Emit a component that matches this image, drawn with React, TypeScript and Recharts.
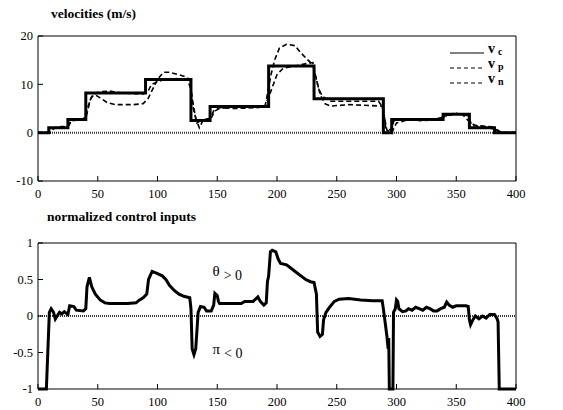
import React from "react";
import {
  LineChart,
  Line,
  XAxis,
  YAxis,
  ReferenceLine,
  ReferenceDot,
  Legend,
} from "recharts";

const timeTicks = [0, 50, 100, 150, 200, 250, 300, 350, 400];
const velocityTicks = [-10, 0, 10, 20];
const controlTicks = [-1, -0.5, 0, 0.5, 1];

// commanded velocity (step function)
const vcData = [
  { t: 0, v: 0 }, { t: 9, v: 1 }, { t: 25, v: 2.7 }, { t: 40, v: 8.2 },
  { t: 90, v: 11 }, { t: 128, v: 2.5 }, { t: 144, v: 5.4 }, { t: 193, v: 13.8 },
  { t: 231, v: 7 }, { t: 289, v: 0 }, { t: 296, v: 2.7 }, { t: 339, v: 3.8 },
  { t: 361, v: 1 }, { t: 382, v: 0 }, { t: 400, v: 0 },
];

// v_p
const vpData = [
  { t: 0, v: 0 }, { t: 10, v: 0 }, { t: 14, v: 1 }, { t: 24, v: 1.2 },
  { t: 28, v: 2.5 }, { t: 38, v: 2.7 }, { t: 42, v: 5.5 }, { t: 45, v: 7.5 },
  { t: 48, v: 7.8 }, { t: 52, v: 7.2 }, { t: 58, v: 6.2 }, { t: 65, v: 5.8 },
  { t: 80, v: 5.8 }, { t: 88, v: 6 }, { t: 92, v: 7 }, { t: 96, v: 9 },
  { t: 100, v: 11 }, { t: 105, v: 12.5 }, { t: 110, v: 12.5 }, { t: 118, v: 12 },
  { t: 124, v: 11.5 }, { t: 127, v: 11 }, { t: 129, v: 7 }, { t: 132, v: 3 },
  { t: 135, v: 1 }, { t: 138, v: 2.5 }, { t: 144, v: 3 }, { t: 147, v: 4.5 },
  { t: 152, v: 5.2 }, { t: 165, v: 5 }, { t: 185, v: 5.2 }, { t: 190, v: 5.5 },
  { t: 192, v: 8 }, { t: 195, v: 12 }, { t: 198, v: 15 }, { t: 202, v: 17.5 },
  { t: 208, v: 18.3 }, { t: 215, v: 18 }, { t: 220, v: 16.5 }, { t: 226, v: 15 },
  { t: 230, v: 14 }, { t: 233, v: 11 }, { t: 236, v: 8 }, { t: 240, v: 6 },
  { t: 245, v: 5.5 }, { t: 260, v: 5.8 }, { t: 288, v: 5.5 }, { t: 290, v: 3 },
  { t: 292, v: 0.5 }, { t: 296, v: 0 }, { t: 300, v: 2 }, { t: 310, v: 2.7 },
  { t: 320, v: 2.5 }, { t: 330, v: 2.6 }, { t: 340, v: 3.3 }, { t: 350, v: 4 },
  { t: 360, v: 3.5 }, { t: 363, v: 1.5 }, { t: 375, v: 1.2 }, { t: 385, v: 0.5 },
  { t: 388, v: 0 }, { t: 400, v: 0 },
];

// v_n
const vnData = [
  { t: 0, v: 0 }, { t: 10, v: 0 }, { t: 12, v: 0.8 }, { t: 16, v: 1.2 },
  { t: 22, v: 1.3 }, { t: 26, v: 1.5 }, { t: 28, v: 2.5 }, { t: 36, v: 2.6 },
  { t: 40, v: 3 }, { t: 42, v: 5 }, { t: 44, v: 7 }, { t: 47, v: 8 },
  { t: 52, v: 8.5 }, { t: 60, v: 8.6 }, { t: 70, v: 8.2 }, { t: 88, v: 8 },
  { t: 92, v: 8.5 }, { t: 95, v: 10 }, { t: 100, v: 10.5 }, { t: 105, v: 11 },
  { t: 115, v: 11.2 }, { t: 125, v: 11 }, { t: 128, v: 9 }, { t: 130, v: 5 },
  { t: 133, v: 2 }, { t: 136, v: 2.5 }, { t: 145, v: 3 }, { t: 148, v: 4.5 },
  { t: 152, v: 5 }, { t: 160, v: 5.3 }, { t: 190, v: 5.5 }, { t: 194, v: 8 },
  { t: 197, v: 10 }, { t: 200, v: 12 }, { t: 205, v: 13.3 }, { t: 215, v: 13.8 },
  { t: 225, v: 14.3 }, { t: 230, v: 14.5 }, { t: 232, v: 12 }, { t: 235, v: 9 },
  { t: 238, v: 7.5 }, { t: 245, v: 6.5 }, { t: 285, v: 6.5 }, { t: 289, v: 5 },
  { t: 291, v: 1 }, { t: 295, v: 0.5 }, { t: 298, v: 2.5 }, { t: 305, v: 2.7 },
  { t: 330, v: 2.8 }, { t: 340, v: 3.2 }, { t: 345, v: 4 }, { t: 355, v: 3.8 },
  { t: 362, v: 2 }, { t: 366, v: 1.5 }, { t: 380, v: 1.2 }, { t: 384, v: 0.5 },
  { t: 386, v: 0 }, { t: 400, v: 0 },
];

// normalized control input
const controlData = [
  { t: 0, u: -1 }, { t: 7, u: -1 }, { t: 9.5, u: 0.05 }, { t: 11, u: 0.1 },
  { t: 13, u: 0.05 }, { t: 14.5, u: -0.04 }, { t: 16, u: 0 }, { t: 18, u: 0.05 },
  { t: 20, u: 0.03 }, { t: 22, u: 0.06 }, { t: 25, u: 0.02 }, { t: 26.5, u: 0.14 },
  { t: 30, u: 0.13 }, { t: 32, u: 0.08 }, { t: 38, u: 0.07 }, { t: 40, u: 0.1 },
  { t: 41, u: 0.4 }, { t: 43, u: 0.53 }, { t: 45, u: 0.4 }, { t: 48, u: 0.3 },
  { t: 52, u: 0.22 }, { t: 56, u: 0.18 }, { t: 60, u: 0.17 }, { t: 75, u: 0.17 },
  { t: 82, u: 0.18 }, { t: 85, u: 0.22 }, { t: 88, u: 0.25 }, { t: 91, u: 0.3 },
  { t: 92.5, u: 0.5 }, { t: 95.5, u: 0.61 }, { t: 100, u: 0.58 }, { t: 104, u: 0.55 },
  { t: 107, u: 0.5 }, { t: 110, u: 0.42 }, { t: 114, u: 0.35 }, { t: 118, u: 0.3 },
  { t: 122, u: 0.27 }, { t: 127, u: 0.25 }, { t: 128, u: 0.1 }, { t: 129, u: -0.45 },
  { t: 130.5, u: -0.53 }, { t: 132, u: -0.45 }, { t: 133, u: -0.2 }, { t: 134, u: 0.05 },
  { t: 136, u: 0.13 }, { t: 139, u: 0.12 }, { t: 141, u: 0.07 }, { t: 145, u: 0.07 },
  { t: 147, u: 0.15 }, { t: 148, u: 0.31 }, { t: 150, u: 0.28 }, { t: 151, u: 0.2 },
  { t: 152, u: 0.17 }, { t: 170, u: 0.17 }, { t: 173, u: 0.2 }, { t: 180, u: 0.2 },
  { t: 184, u: 0.26 }, { t: 186, u: 0.2 }, { t: 189, u: 0.15 }, { t: 191, u: 0.18 },
  { t: 192, u: 0.47 }, { t: 193, u: 0.55 }, { t: 194.5, u: 0.88 }, { t: 196, u: 0.9 },
  { t: 199, u: 0.88 }, { t: 201, u: 0.78 }, { t: 203, u: 0.72 }, { t: 208, u: 0.7 },
  { t: 212, u: 0.65 }, { t: 216, u: 0.6 }, { t: 220, u: 0.55 }, { t: 224, u: 0.5 },
  { t: 228, u: 0.47 }, { t: 231, u: 0.46 }, { t: 233, u: 0.3 }, { t: 234, u: -0.22 },
  { t: 236, u: -0.28 }, { t: 238, u: -0.25 }, { t: 239, u: -0.05 }, { t: 241, u: 0.05 },
  { t: 244, u: 0.12 }, { t: 248, u: 0.2 }, { t: 252, u: 0.23 }, { t: 260, u: 0.24 },
  { t: 270, u: 0.22 }, { t: 280, u: 0.21 }, { t: 288, u: 0.21 }, { t: 289, u: 0.1 },
  { t: 291, u: -0.15 }, { t: 292, u: -0.28 }, { t: 293, u: -0.45 }, { t: 293.5, u: -0.3 },
  { t: 294, u: -1 }, { t: 297, u: -1 }, { t: 297.5, u: 0.05 }, { t: 299, u: 0.1 },
  { t: 300, u: 0.22 }, { t: 301, u: 0.2 }, { t: 302, u: 0.1 }, { t: 305, u: 0.06 },
  { t: 308, u: 0.07 }, { t: 310, u: 0.1 }, { t: 313, u: 0.08 }, { t: 316, u: 0.12 },
  { t: 319, u: 0.1 }, { t: 322, u: 0.08 }, { t: 325, u: 0.12 }, { t: 328, u: 0.1 },
  { t: 331, u: 0.07 }, { t: 334, u: 0.07 }, { t: 337, u: 0.1 }, { t: 340, u: 0.12 },
  { t: 342, u: 0.19 }, { t: 344, u: 0.15 }, { t: 347, u: 0.12 }, { t: 350, u: 0.14 },
  { t: 358, u: 0.14 }, { t: 360, u: 0.13 }, { t: 361, u: -0.05 }, { t: 362, u: -0.12 },
  { t: 364, u: -0.05 }, { t: 366, u: 0 }, { t: 369, u: -0.04 }, { t: 372, u: 0 },
  { t: 375, u: -0.03 }, { t: 378, u: 0.02 }, { t: 382, u: 0.02 }, { t: 384, u: -0.03 },
  { t: 385, u: -0.08 }, { t: 386, u: -1 }, { t: 400, u: -1 },
];

const legendItems = [
  { base: "v", sub: "c", dash: undefined },
  { base: "v", sub: "p", dash: "4 3" },
  { base: "v", sub: "n", dash: "4 3" },
];

const serif = '"Liberation Serif", "Times New Roman", serif';
const tickStyle = { fontFamily: serif, fontSize: 12.5, fill: "#000" };

const renderLegend = () => (
  <div style={{ fontFamily: serif }}>
    {legendItems.map((item) => (
      <div
        key={item.sub}
        style={{ display: "flex", alignItems: "center", height: 15 }}
      >
        <svg width={38} height={12}>
          <line
            x1={2}
            y1={9}
            x2={36}
            y2={9}
            stroke="#000"
            strokeWidth={1}
            strokeDasharray={item.dash}
          />
        </svg>
        <span style={{ fontWeight: "bold", fontSize: 14, marginLeft: 2, lineHeight: "14px" }}>
          {item.base}
          <span style={{ fontSize: 10, marginLeft: 3, position: "relative", top: 2 }}>
            {item.sub}
          </span>
        </span>
      </div>
    ))}
  </div>
);

const signLabel = (main: string, rest: string) => (props: any) => {
  const { viewBox } = props;
  return (
    <text x={viewBox.x} y={viewBox.y} fontFamily={serif} fill="#000">
      <tspan fontSize={15}>{main}</tspan>
      <tspan dx={4} dy={4} fontSize={14}>
        {rest}
      </tspan>
    </text>
  );
};

export default function App() {
  return (
    <div
      style={{
        position: "absolute",
        left: 0,
        top: 0,
        width: 563,
        height: 410,
        background: "#fff",
        fontFamily: serif,
      }}
    >
      <div
        style={{
          position: "absolute",
          left: 51,
          top: 6,
          fontSize: 13.5,
          fontWeight: "bold",
          lineHeight: "16px",
        }}
      >
        velocities (m/s)
      </div>
      <div
        style={{
          position: "absolute",
          left: 47,
          top: 209,
          fontSize: 13.5,
          fontWeight: "bold",
          lineHeight: "16px",
        }}
      >
        normalized control inputs
      </div>

      <div style={{ position: "absolute", left: 0, top: 0 }}>
        <LineChart
          width={563}
          height={205}
          margin={{ top: 35, right: 46, bottom: 4, left: 0 }}
        >
          <XAxis
            xAxisId="b"
            type="number"
            dataKey="t"
            domain={[0, 400]}
            ticks={timeTicks}
            height={20}
            tickSize={-5}
            tickMargin={13}
            stroke="#000"
            tick={tickStyle}
          />
          <XAxis
            xAxisId="t"
            orientation="top"
            type="number"
            dataKey="t"
            domain={[0, 400]}
            ticks={timeTicks}
            height={1}
            tickSize={-5}
            tick={false}
            stroke="#000"
          />
          <YAxis
            yAxisId="l"
            type="number"
            domain={[-10, 20]}
            ticks={velocityTicks}
            width={38}
            tickSize={-5}
            tickMargin={10}
            stroke="#000"
            tick={tickStyle}
          />
          <YAxis
            yAxisId="r"
            orientation="right"
            type="number"
            domain={[-10, 20]}
            ticks={velocityTicks}
            width={1}
            tickSize={-5}
            tick={false}
            stroke="#000"
          />
          <ReferenceLine
            xAxisId="b"
            yAxisId="l"
            y={0}
            stroke="#333"
            strokeWidth={2}
            strokeDasharray="1 1"
          />
          <Line
            xAxisId="b"
            yAxisId="l"
            data={vpData}
            dataKey="v"
            name="v_p"
            type="linear"
            stroke="#000"
            strokeWidth={1.6}
            strokeDasharray="5 3"
            dot={false}
            isAnimationActive={false}
          />
          <Line
            xAxisId="b"
            yAxisId="l"
            data={vnData}
            dataKey="v"
            name="v_n"
            type="linear"
            stroke="#000"
            strokeWidth={1.6}
            strokeDasharray="5 3"
            dot={false}
            isAnimationActive={false}
          />
          <Line
            xAxisId="b"
            yAxisId="l"
            data={vcData}
            dataKey="v"
            name="v_c"
            type="stepAfter"
            stroke="#000"
            strokeWidth={3}
            dot={false}
            isAnimationActive={false}
          />
          <Legend
            layout="vertical"
            align="center"
            verticalAlign="middle"
            content={renderLegend}
            wrapperStyle={{ top: 42, left: 448, width: 80, height: 48 }}
          />
        </LineChart>
      </div>

      <div style={{ position: "absolute", left: 0, top: 205 }}>
        <LineChart
          width={563}
          height={205}
          margin={{ top: 37, right: 46, bottom: 1, left: 0 }}
        >
          <XAxis
            xAxisId="b"
            type="number"
            dataKey="t"
            domain={[0, 400]}
            ticks={timeTicks}
            height={20}
            tickSize={-5}
            tickMargin={13}
            stroke="#000"
            tick={tickStyle}
          />
          <XAxis
            xAxisId="t"
            orientation="top"
            type="number"
            dataKey="t"
            domain={[0, 400]}
            ticks={timeTicks}
            height={1}
            tickSize={-5}
            tick={false}
            stroke="#000"
          />
          <YAxis
            yAxisId="l"
            type="number"
            domain={[-1, 1]}
            ticks={controlTicks}
            width={38}
            tickSize={-5}
            tickMargin={10}
            stroke="#000"
            tick={tickStyle}
          />
          <YAxis
            yAxisId="r"
            orientation="right"
            type="number"
            domain={[-1, 1]}
            ticks={controlTicks}
            width={1}
            tickSize={-5}
            tick={false}
            stroke="#000"
          />
          <ReferenceLine
            xAxisId="b"
            yAxisId="l"
            y={0}
            stroke="#333"
            strokeWidth={2}
            strokeDasharray="1 1"
          />
          <Line
            xAxisId="b"
            yAxisId="l"
            data={controlData}
            dataKey="u"
            name="u"
            type="linear"
            stroke="#000"
            strokeWidth={3}
            dot={false}
            legendType="none"
            isAnimationActive={false}
          />
          <ReferenceDot
            xAxisId="b"
            yAxisId="l"
            x={146}
            y={0.55}
            r={0}
            fill="none"
            stroke="none"
            label={signLabel("θ", "> 0")}
          />
          <ReferenceDot
            xAxisId="b"
            yAxisId="l"
            x={146}
            y={-0.52}
            r={0}
            fill="none"
            stroke="none"
            label={signLabel("π", "< 0")}
          />
        </LineChart>
      </div>
    </div>
  );
}
